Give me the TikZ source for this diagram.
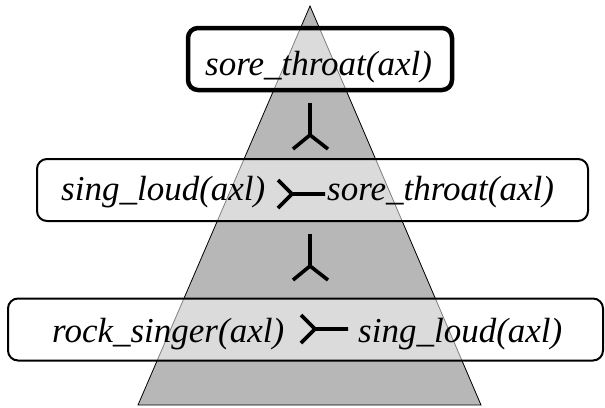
\documentclass[tikz,border=0pt]{standalone}
\usepackage{fontspec}
\newfontfamily\litfont{Liberation Serif Italic}
\begin{document}
\begin{tikzpicture}[x=1pt,y=-1pt,
  stage/.style={draw=black, line width=2pt, rounded corners=10pt,
    fill=white, fill opacity=0.5, draw opacity=1, inner sep=0pt},
  goalbox/.style={stage, line width=4.5pt},
  lit/.style={font=\litfont\fontsize{35}{40}\selectfont, inner sep=0pt, anchor=base west},
  forkline/.style={draw=black, line width=3.6pt},
  vfork/.pic={\draw[forkline] (0,-32) -- (0,0) (-17,14) -- (0,0) -- (18,14);},
  hfork/.pic={\draw[forkline] (-14,-14) -- (0,0) -- (-14,14) (0,0) -- (33,0);}
]
\useasboundingbox (0,0) rectangle (605,407);

% proof pyramid
\draw[fill={rgb,255:red,183;green,183;blue,183}, line width=0.8pt]
  (310,6) coordinate (apex) -- (138,405) coordinate (bl) -- (481,405) coordinate (br) -- cycle;

% boxes for the three steps
\node[goalbox, minimum width=264pt, minimum height=62pt] (b1) at (320,59) {};
\node[stage, minimum width=551pt, minimum height=62pt] (b2) at (312.5,190) {};
\node[stage, minimum width=595pt, minimum height=62pt] (b3) at (305.5,329.5) {};

% literals
\node[lit] (t1) at (205,75) {sore\_throat(axl)};
\node[lit] (t2a) at (61,200) {sing\_loud(axl)};
\node[lit] (t2b) at (327,200) {sore\_throat(axl)};
\node[lit] (t3a) at (52,342) {rock\_singer(axl)};
\node[lit] (t3b) at (358,342) {sing\_loud(axl)};

% fork symbols
\pic at (310,135) {vfork};
\pic at (310,266) {vfork};
\pic at (292,194) {hfork};
\pic at (315,329) {hfork};
\end{tikzpicture}
\end{document}
